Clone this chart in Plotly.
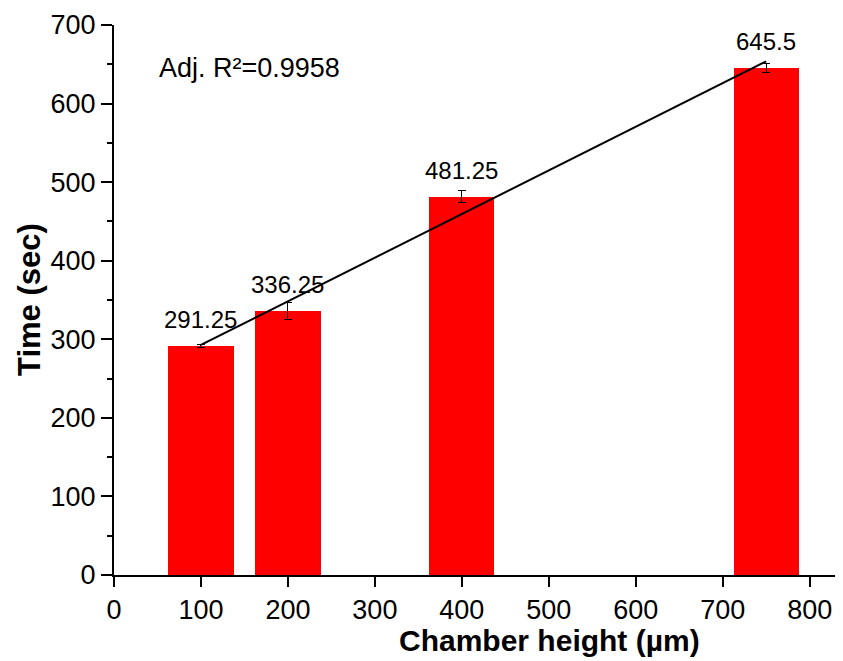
import numpy as np
import plotly.graph_objects as go

# Data
chamber_height = [100, 200, 400, 750]
time_sec = [291.25, 336.25, 481.25, 645.5]
time_err = [1.5, 10.5, 7.5, 5.4]
value_labels = ["291.25", "336.25", "481.25", "645.5"]
r2_text = "Adj. R²=0.9958"
x_ticks = [0, 100, 200, 300, 400, 500, 600, 700, 800]
y_ticks = [0, 100, 200, 300, 400, 500, 600, 700]

FONT = "Liberation Sans, Arial, sans-serif"

fig = go.Figure()

fig.add_trace(go.Bar(
    x=chamber_height, y=time_sec, width=75,
    marker=dict(color="#FF0000", line=dict(width=0)),
    error_y=dict(type="data", array=time_err, visible=True,
                 color="black", thickness=1, width=4),
    showlegend=False,
))

# Linear fit line
slope, intercept = np.polyfit(chamber_height, time_sec, 1)
fx = [min(chamber_height), max(chamber_height)]
fy = [slope * v + intercept for v in fx]
fig.add_trace(go.Scatter(x=fx, y=fy, mode="lines",
                         line=dict(color="black", width=2),
                         showlegend=False, hoverinfo="skip"))

annotations = []
for xv, yv, lab in zip(chamber_height, time_sec, value_labels):
    annotations.append(dict(x=xv, y=yv, xref="x", yref="y", text=lab,
                            showarrow=False, yanchor="bottom", xanchor="center",
                            yshift=11, font=dict(family=FONT, size=24, color="black")))

annotations.append(dict(x=49, y=645, xref="x", yref="y", text=r2_text,
                        showarrow=False, xanchor="left", yanchor="middle",
                        font=dict(family=FONT, size=27, color="black")))

# Axis titles
annotations.append(dict(x=501, y=0, xref="x", yref="paper",
                        text="<b>Chamber height (µm)</b>", showarrow=False,
                        xanchor="center", yanchor="middle", yshift=-65,
                        font=dict(family=FONT, size=30, color="black")))
annotations.append(dict(x=0, y=0.5, xref="paper", yref="paper",
                        text="<b>Time (sec)</b>", showarrow=False, textangle=-90,
                        xanchor="center", yanchor="middle", xshift=-85,
                        font=dict(family=FONT, size=31, color="black")))

fig.update_layout(
    width=835, height=653,
    margin=dict(l=106, r=0, t=17, b=86),
    paper_bgcolor="white", plot_bgcolor="white",
    font=dict(family=FONT, color="black"),
    annotations=annotations,
    bargap=0,
)

fig.update_xaxes(
    range=[0, 838.3], tickvals=x_ticks, ticktext=[str(v) for v in x_ticks],
    showline=True, linecolor="black", linewidth=2,
    ticks="outside", ticklen=10, tickwidth=2, tickcolor="black",
    showgrid=False, zeroline=False, automargin=False,
    tickfont=dict(family=FONT, size=27, color="black"),
)
fig.update_yaxes(
    range=[0, 700], tickvals=y_ticks, ticktext=[str(v) for v in y_ticks],
    showline=True, linecolor="black", linewidth=2,
    ticks="outside", ticklen=11, tickwidth=2, tickcolor="black",
    minor=dict(dtick=50, ticks="outside", ticklen=5, tickwidth=2, tickcolor="black"),
    showgrid=False, zeroline=False, automargin=False,
    tickfont=dict(family=FONT, size=27, color="black"),
)

fig.write_html("out.html")
